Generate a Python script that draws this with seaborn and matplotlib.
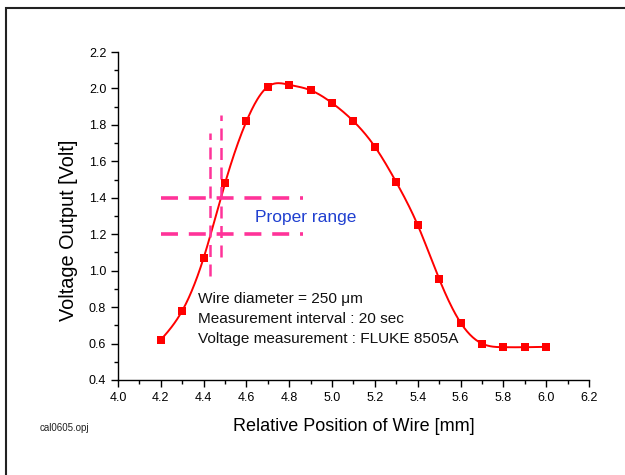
import numpy as np
import pandas as pd
import matplotlib
matplotlib.use("Agg")
import matplotlib.pyplot as plt
import seaborn as sns
from matplotlib.patches import Rectangle
from matplotlib.ticker import MultipleLocator

# ---- data ----
position = [4.2, 4.3, 4.4, 4.5, 4.6, 4.7, 4.8, 4.9, 5.0, 5.1,
            5.2, 5.3, 5.4, 5.5, 5.6, 5.7, 5.8, 5.9, 6.0]
voltage = [0.62, 0.78, 1.07, 1.48, 1.82, 2.01, 2.02, 1.99, 1.92, 1.82,
           1.68, 1.485, 1.25, 0.955, 0.715, 0.60, 0.58, 0.58, 0.582]

range_y = [1.4, 1.2]          # horizontal dashed lines
range_x_span = [4.2, 4.865]
range_x = [4.43, 4.48]        # vertical dashed lines
range_x_yspan = [[0.97, 1.755], [1.075, 1.855]]

x_ticks = [4.0, 4.2, 4.4, 4.6, 4.8, 5.0, 5.2, 5.4, 5.6, 5.8, 6.0, 6.2]
y_ticks = [0.4, 0.6, 0.8, 1.0, 1.2, 1.4, 1.6, 1.8, 2.0, 2.2]

info_lines = ["Wire diameter = 250 \u03bcm",
              "Measurement interval : 20 sec",
              "Voltage measurement : FLUKE 8505A"]


def natural_spline(x, y, xs):
    x = np.asarray(x, float); y = np.asarray(y, float)
    n = len(x)
    h = np.diff(x)
    A = np.zeros((n, n)); b = np.zeros(n)
    A[0, 0] = A[-1, -1] = 1
    for i in range(1, n - 1):
        A[i, i - 1] = h[i - 1]
        A[i, i] = 2 * (h[i - 1] + h[i])
        A[i, i + 1] = h[i]
        b[i] = 3 * ((y[i + 1] - y[i]) / h[i] - (y[i] - y[i - 1]) / h[i - 1])
    c = np.linalg.solve(A, b)
    out = np.empty_like(xs)
    for k, xv in enumerate(xs):
        i = min(max(np.searchsorted(x, xv) - 1, 0), n - 2)
        dx = xv - x[i]
        bi = (y[i + 1] - y[i]) / h[i] - h[i] * (2 * c[i] + c[i + 1]) / 3
        di = (c[i + 1] - c[i]) / (3 * h[i])
        out[k] = y[i] + bi * dx + c[i] * dx ** 2 + di * dx ** 3
    return out


sns.set_theme(style="ticks")
plt.rcParams['font.family'] = ['Liberation Sans', 'DejaVu Sans']

fig = plt.figure(figsize=(6.25, 4.75), dpi=100)
ax = fig.add_axes([0.1888, 0.2, 0.7536, 0.6905])

xs = np.linspace(position[0], position[-1], 400)
ys = natural_spline(position, voltage, xs)
curve = pd.DataFrame({"x": xs, "y": ys})
pts = pd.DataFrame({"x": position, "y": voltage})

sns.lineplot(data=curve, x="x", y="y", ax=ax, color="#ff0000", lw=1.4,
             sort=False, estimator=None)
sns.scatterplot(data=pts, x="x", y="y", ax=ax, marker="s", color="#ff0000",
                s=33, edgecolor="#ff0000", linewidth=0, zorder=5)

pink = "#ff3399"
for yv in range_y:
    ax.plot(range_x_span, [yv, yv], color=pink, lw=2.6, dashes=(4.7, 3.0))
for xv, (y0, y1) in zip(range_x, range_x_yspan):
    ax.plot([xv, xv], [y0, y1], color=pink, lw=1.8, dashes=(4.8, 3.0))

ax.text(4.64, 1.29, "Proper range", color="#1f3fd0", fontsize=12.5,
        va="center", ha="left")
for i, line in enumerate(info_lines):
    ax.text(4.374, 0.843 - i * 0.11, line, fontsize=11.1, va="center",
            ha="left", color="#111111")

ax.set_xlim(4.0, 6.2)
ax.set_ylim(0.4, 2.2)
ax.set_xticks(x_ticks)
ax.set_yticks(y_ticks)
ax.set_xticklabels([f"{v:.1f}" for v in x_ticks], fontsize=9)
ax.set_yticklabels([f"{v:.1f}" for v in y_ticks], fontsize=9)
ax.xaxis.set_minor_locator(MultipleLocator(0.1))
ax.yaxis.set_minor_locator(MultipleLocator(0.1))
ax.tick_params(which="major", direction="out", length=5, width=1, color="black",
               labelcolor="black")
ax.tick_params(which="minor", direction="out", length=3, width=1, color="black")
sns.despine(ax=ax)
for s in ["left", "bottom"]:
    ax.spines[s].set_color("black")
    ax.spines[s].set_linewidth(1.0)

ax.set_xlabel("Relative Position of Wire [mm]", fontsize=13, labelpad=10,
              color="black")
ax.set_ylabel("Voltage Output [Volt]", fontsize=14.3, color="black",
              va="center")
ax.yaxis.set_label_coords(-0.106, 0.457)

fig.text(40 / 625, 1 - 428 / 475, "cal0605.opj", fontsize=7, va="center",
         ha="left", color="#222222")

fig.patches.append(Rectangle((6 / 625, -0.05), 1.2, 1 - 8 / 475 + 0.05,
                             transform=fig.transFigure, fill=False,
                             edgecolor="#222222", lw=1.5))

fig.savefig("out.png", dpi=100)
